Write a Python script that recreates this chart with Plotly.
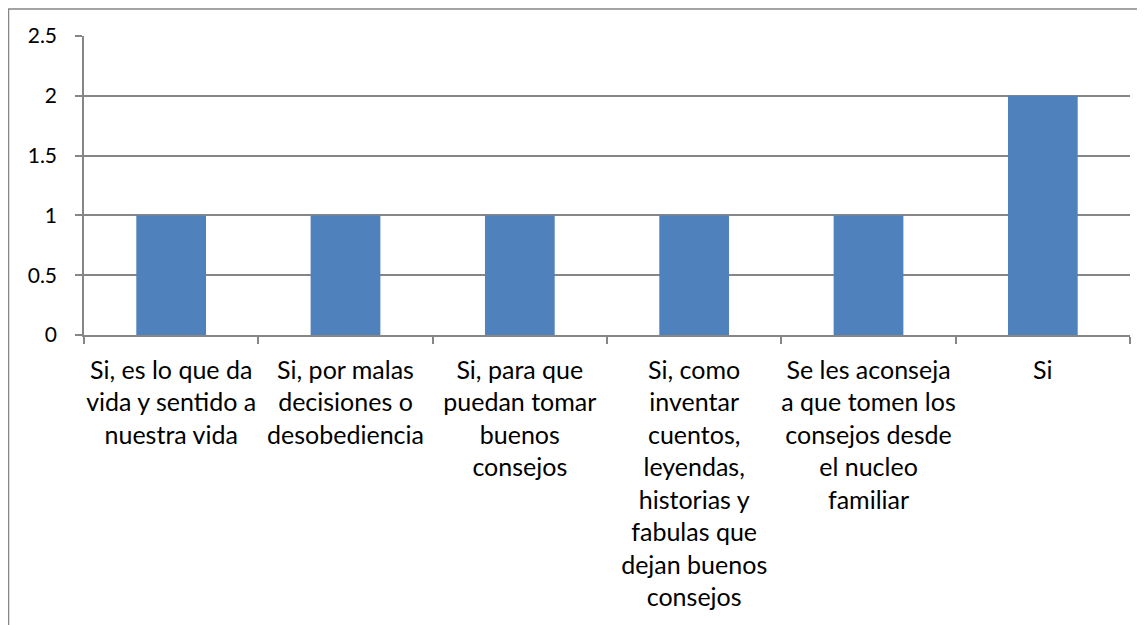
import plotly.graph_objects as go

# categorías y valores
categorias = [
    "Si, es lo que da<br>vida y sentido a<br>nuestra vida",
    "Si, por malas<br>decisiones o<br>desobediencia",
    "Si, para que<br>puedan tomar<br>buenos<br>consejos",
    "Si, como<br>inventar<br>cuentos,<br>leyendas,<br>historias y<br>fabulas que<br>dejan buenos<br>consejos",
    "Se les aconseja<br>a que tomen los<br>consejos desde<br>el nucleo<br>familiar",
    "Si",
]
valores = [1, 1, 1, 1, 1, 2]
y_ticks = [0, 0.5, 1, 1.5, 2, 2.5]
y_labels = ["0", "0.5", "1", "1.5", "2", "2.5"]

gris = "#868686"

fig = go.Figure()
fig.add_trace(go.Bar(
    x=categorias,
    y=valores,
    marker=dict(color="#4F81BD", line=dict(width=0)),
    width=0.4,
))

# borde del área del gráfico (recortado a la derecha y abajo)
fig.add_shape(type="rect", xref="paper", yref="paper",
              x0=-75.5 / 1046, x1=1.1, y0=-2, y1=1 + 27 / 299,
              line=dict(color=gris, width=1.5), fillcolor="rgba(0,0,0,0)", layer="below")

fig.update_layout(
    width=1137, height=617,
    margin=dict(l=76, r=15, t=28, b=290),
    plot_bgcolor="white", paper_bgcolor="white",
    showlegend=False,
    font=dict(family="Lato, Noto Sans, sans-serif", size=20, color="black"),
    xaxis=dict(
        type="category",
        showline=True, linecolor=gris, linewidth=1.5,
        ticks="outside", ticklen=7, tickcolor=gris, tickwidth=1.5,
        tickson="boundaries",
        showgrid=False, tickangle=0,
        tickfont=dict(size=25),
        ticklabelstandoff=12,
    ),
    yaxis=dict(
        range=[0, 2.5],
        tickmode="array", tickvals=y_ticks, ticktext=y_labels,
        showline=True, linecolor=gris, linewidth=1.5,
        ticks="outside", ticklen=7, tickcolor=gris, tickwidth=1.5,
        showgrid=True, gridcolor=gris, gridwidth=1.5,
        zeroline=False,
        tickfont=dict(size=21),
        ticklabelstandoff=14,
    ),
)

fig.write_html("out.html")
